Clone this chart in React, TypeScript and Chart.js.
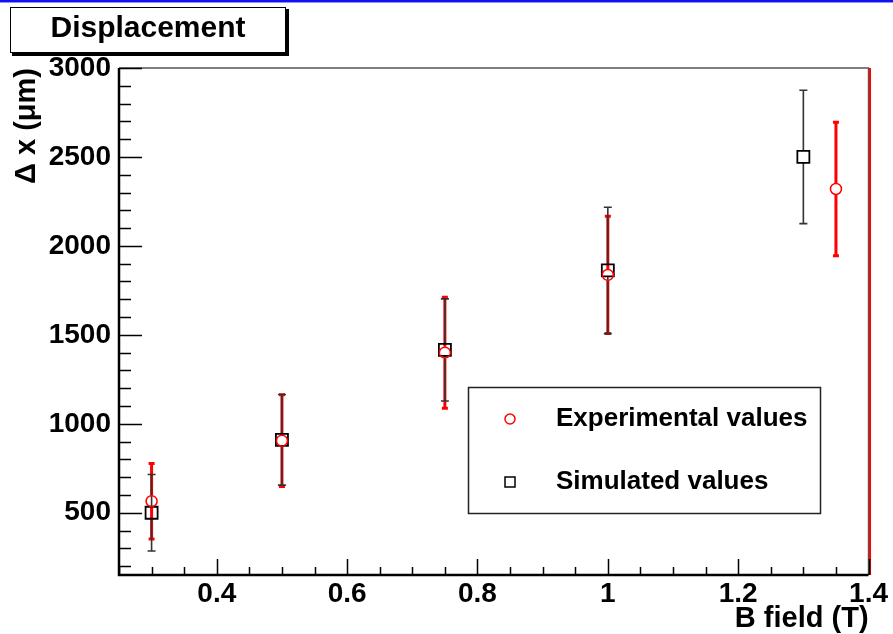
import React, { useEffect, useRef } from "react";
import { Chart, registerables } from "chart.js";

Chart.register(...registerables);

// ---- data ----
const bFieldExp = [0.3, 0.5, 0.75, 1.0, 1.35];
const dispExp = [565, 905, 1400, 1837, 2320];
const errExp = [212, 258, 312, 330, 375];

const bFieldSim = [0.3, 0.5, 0.75, 1.0, 1.3];
const dispSim = [500, 910, 1415, 1862, 2500];
const errSim = [215, 255, 287, 355, 375];

const xTicks = [0.4, 0.6, 0.8, 1.0, 1.2, 1.4];
const xTickLabels = ["0.4", "0.6", "0.8", "1", "1.2", "1.4"];
const yTicks = [500, 1000, 1500, 2000, 2500, 3000];
const yTickLabels = ["500", "1000", "1500", "2000", "2500", "3000"];

const X_MIN = 0.25;
const X_MAX = 1.4;
const Y_MIN = 150;
const Y_MAX = 3000;
const X_MINOR_STEP = 0.05;
const Y_MINOR_STEP = 100;

const TITLE = "Displacement";
const X_TITLE = "B field (T)";
const Y_TITLE = "\u0394 x (\u03bcm)";

const FONT = "'Liberation Sans', Arial, Helvetica, sans-serif";

const errorBarsPlugin = {
  id: "errorBars",
  beforeDatasetsDraw(chart: any) {
    const ctx = chart.ctx;
    const xs = chart.scales.x;
    const ys = chart.scales.y;
    chart.data.datasets.forEach((ds: any) => {
      const errs: number[] = ds.errors || [];
      ctx.save();
      ctx.strokeStyle = ds.errColor;
      ctx.lineWidth = ds.errWidth;
      ds.data.forEach((p: any, i: number) => {
        const px = xs.getPixelForValue(p.x);
        const py = ys.getPixelForValue(p.y);
        const top = ys.getPixelForValue(p.y + errs[i]);
        const bot = ys.getPixelForValue(p.y - errs[i]);
        const g = ds.gap;
        ctx.beginPath();
        ctx.moveTo(px, top);
        ctx.lineTo(px, py - g);
        ctx.moveTo(px, py + g);
        ctx.lineTo(px, bot);
        ctx.stroke();
        ctx.lineWidth = ds.capWidth;
        ctx.beginPath();
        ctx.moveTo(px - ds.capHalf, top);
        ctx.lineTo(px + ds.capHalf, top);
        ctx.moveTo(px - ds.capHalf, bot);
        ctx.lineTo(px + ds.capHalf, bot);
        ctx.stroke();
        ctx.lineWidth = ds.errWidth;
      });
      ctx.restore();
    });
  },
};

const framePlugin = {
  id: "rootFrame",
  afterDraw(chart: any) {
    const ctx = chart.ctx;
    const { left, right, top, bottom } = chart.chartArea;
    const xs = chart.scales.x;
    const ys = chart.scales.y;
    ctx.save();
    // top blue band
    ctx.fillStyle = "#1010f0";
    ctx.fillRect(0, 0, chart.width, 2);
    ctx.fillStyle = "#9090ff";
    ctx.fillRect(0, 2, chart.width, 1);

    // frame top/right
    ctx.strokeStyle = "#555";
    ctx.lineWidth = 1.5;
    ctx.beginPath();
    ctx.moveTo(left, top);
    ctx.lineTo(right, top);
    ctx.lineTo(right, bottom);
    ctx.stroke();
    ctx.strokeStyle = "#ff0000";
    ctx.lineWidth = 2;
    ctx.beginPath();
    ctx.moveTo(right + 1.5, top);
    ctx.lineTo(right + 1.5, bottom);
    ctx.stroke();

    // ticks
    ctx.strokeStyle = "#000";
    ctx.lineWidth = 1.5;
    ctx.beginPath();
    for (let v = Math.ceil(X_MIN / X_MINOR_STEP - 1e-6) * X_MINOR_STEP; v <= X_MAX + 1e-6; v += X_MINOR_STEP) {
      const isMajor = xTicks.some((t) => Math.abs(t - v) < 1e-6);
      const px = Math.round(xs.getPixelForValue(v)) + 0.5;
      ctx.moveTo(px, bottom);
      ctx.lineTo(px, bottom - (isMajor ? 16 : 8));
    }
    for (let v = Math.ceil(Y_MIN / Y_MINOR_STEP - 1e-6) * Y_MINOR_STEP; v <= Y_MAX + 1e-6; v += Y_MINOR_STEP) {
      const isMajor = yTicks.some((t) => Math.abs(t - v) < 1e-6);
      const py = Math.round(ys.getPixelForValue(v)) + 0.5;
      ctx.moveTo(left, py);
      ctx.lineTo(left + (isMajor ? 23 : 12), py);
    }
    ctx.stroke();

    // left/bottom axes
    ctx.lineWidth = 2.5;
    ctx.beginPath();
    ctx.moveTo(left, top);
    ctx.lineTo(left, bottom);
    ctx.lineTo(right, bottom);
    ctx.stroke();

    // title box
    ctx.fillStyle = "#000";
    ctx.fillRect(12, 9, 277, 47);
    ctx.fillStyle = "#fff";
    ctx.fillRect(10, 7, 276, 46);
    ctx.strokeStyle = "#000";
    ctx.lineWidth = 1;
    ctx.strokeRect(10.5, 7.5, 275, 45);
    ctx.fillStyle = "#000";
    ctx.font = `bold 30px ${FONT}`;
    ctx.textAlign = "center";
    ctx.textBaseline = "middle";
    ctx.fillText(TITLE, 148, 29);

    // legend
    const lx = 468, ly = 387, lw = 352, lh = 126;
    ctx.fillStyle = "#fff";
    ctx.fillRect(lx, ly, lw, lh);
    ctx.strokeStyle = "#222";
    ctx.lineWidth = 1.5;
    ctx.strokeRect(lx + 0.5, ly + 0.5, lw, lh);
    const rows = [419, 482];
    chart.data.datasets.forEach((ds: any, i: number) => {
      const my = rows[i];
      const mx = 510;
      ctx.strokeStyle = ds.borderColor;
      ctx.lineWidth = 1.5;
      ctx.beginPath();
      if (ds.pointStyle === "circle") {
        ctx.arc(mx, my, 5, 0, Math.PI * 2);
      } else {
        ctx.rect(mx - 5, my - 5, 10, 10);
      }
      ctx.stroke();
      ctx.fillStyle = "#000";
      ctx.font = `bold 26px ${FONT}`;
      ctx.textAlign = "left";
      ctx.textBaseline = "middle";
      ctx.fillText(ds.label, 556, my);
    });
    ctx.restore();
  },
};

export default function App() {
  const ref = useRef<HTMLCanvasElement>(null);

  useEffect(() => {
    document.body.style.margin = "0";
    const canvas = ref.current;
    if (!canvas) return;
    const chart = new Chart(canvas, {
      type: "scatter",
      data: {
        datasets: [
          {
            label: "Experimental values",
            data: bFieldExp.map((x, i) => ({ x, y: dispExp[i] })),
            pointStyle: "circle",
            pointRadius: 5.5,
            borderColor: "#ff0000",
            backgroundColor: "rgba(0,0,0,0)",
            borderWidth: 1.5,
            showLine: false,
            errors: errExp,
            errColor: "#ff0000",
            errWidth: 3,
            capWidth: 3,
            capHalf: 3,
            gap: 6,
          } as any,
          {
            label: "Simulated values",
            data: bFieldSim.map((x, i) => ({ x, y: dispSim[i] })),
            pointStyle: "rect",
            pointRadius: 8.5,
            borderColor: "#000000",
            backgroundColor: "rgba(0,0,0,0)",
            borderWidth: 1.8,
            showLine: false,
            errors: errSim,
            errColor: "#333333",
            errWidth: 1.6,
            capWidth: 1.6,
            capHalf: 4,
            gap: 6,
          } as any,
        ],
      },
      options: {
        responsive: false,
        animation: false,
        devicePixelRatio: 1,
        events: [],
        layout: { padding: { left: 0, top: 68, right: 20, bottom: 0 } },
        plugins: {
          legend: { display: false },
          title: { display: false },
          tooltip: { enabled: false },
        },
        scales: {
          x: {
            type: "linear",
            min: X_MIN,
            max: X_MAX,
            grid: { display: false, drawTicks: false },
            border: { display: false },
            afterBuildTicks: (s: any) => {
              s.ticks = xTicks.map((v) => ({ value: v }));
            },
            afterFit: (s: any) => {
              s.height = 59;
            },
            ticks: {
              autoSkip: false,
              maxRotation: 0,
              padding: 5,
              color: "#000",
              font: { family: FONT, size: 28, weight: "bold", lineHeight: 1 },
              callback: (v: any) => {
                const idx = xTicks.findIndex((t) => Math.abs(t - Number(v)) < 1e-9);
                return idx >= 0 ? xTickLabels[idx] : "";
              },
            },
            title: {
              display: true,
              text: X_TITLE,
              align: "end",
              color: "#000",
              padding: { top: 0, bottom: 1 },
              font: { family: FONT, size: 29, weight: "bold", lineHeight: 1 },
            },
          },
          y: {
            type: "linear",
            min: Y_MIN,
            max: Y_MAX,
            grid: { display: false, drawTicks: false },
            border: { display: false },
            afterBuildTicks: (s: any) => {
              s.ticks = yTicks.map((v) => ({ value: v }));
            },
            afterFit: (s: any) => {
              s.width = 119;
            },
            ticks: {
              autoSkip: false,
              padding: 8,
              color: "#000",
              font: { family: FONT, size: 28, weight: "bold", lineHeight: 1 },
              callback: (v: any) => {
                const idx = yTicks.findIndex((t) => Math.abs(t - Number(v)) < 1e-9);
                return idx >= 0 ? yTickLabels[idx] : "";
              },
            },
            title: {
              display: true,
              text: Y_TITLE,
              align: "end",
              color: "#000",
              padding: { top: 12, bottom: 0 },
              font: { family: FONT, size: 29, weight: "bold", lineHeight: 1 },
            },
          },
        },
      } as any,
      plugins: [errorBarsPlugin, framePlugin],
    });
    return () => chart.destroy();
  }, []);

  return (
    <div
      style={{
        position: "fixed",
        left: 0,
        top: 0,
        width: 893,
        height: 634,
        background: "#fff",
      }}
    >
      <canvas ref={ref} width={893} height={634} style={{ display: "block", width: 893, height: 634 }} />
    </div>
  );
}
